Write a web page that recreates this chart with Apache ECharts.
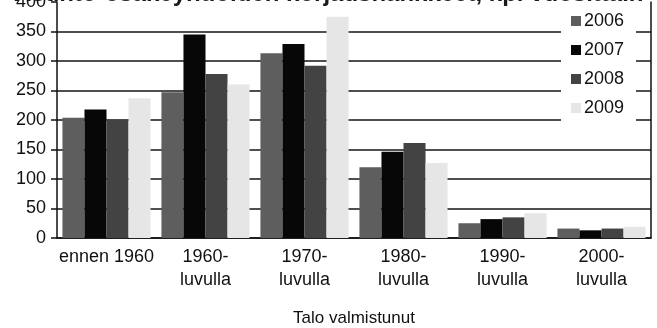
<!DOCTYPE html>
<html>
<head>
<meta charset="utf-8">
<script src="https://cdn.jsdelivr.net/npm/echarts@6/dist/echarts.min.js"></script>
<style>
  html, body { margin: 0; padding: 0; background: #fff; }
  #chart { width: 657px; height: 328px; }
</style>
</head>
<body>
<div id="chart"></div>
<script>
// Construction period of the building
const categories = ['ennen 1960', '1960-\nluvulla', '1970-\nluvulla', '1980-\nluvulla', '1990-\nluvulla', '2000-\nluvulla'];
const years = ['2006', '2007', '2008', '2009'];

// Counts per construction period, one list per year
const values2006 = [204, 247, 313, 120, 25, 16];
const values2007 = [218, 345, 329, 146, 32, 13];
const values2008 = [200, 278, 292, 161, 35, 16];
const values2009 = [237, 260, 375, 127, 42, 19];

const yTicks = { min: 0, max: 400, interval: 50 };
const barColors = ['#5e5e5e', '#070707', '#434343', '#e6e6e6'];

const font = '"Liberation Sans", Arial, sans-serif';
const seriesValues = [values2006, values2007, values2008, values2009];

const chart = echarts.init(document.getElementById('chart'), null, { renderer: 'canvas' });

chart.setOption({
  animation: false,
  backgroundColor: '#ffffff',
  // Heading runs off the top edge of the canvas
  graphic: [{
    type: 'text',
    left: 14,
    top: -18,
    z: 10,
    style: {
      text: 'Asunto-osakeyhtiöiden korjaushankkeet, kpl vuosittain',
      fontFamily: font,
      fontSize: 24,
      fontWeight: 'bold',
      fill: '#1a1a1a'
    }
  }],
  grid: { left: 57, right: 6, top: 2, bottom: 90, containLabel: false, outerBoundsMode: 'none' },
  legend: {
    orient: 'vertical',
    left: 561,
    top: 0,
    padding: [12, 12, 10, 10],
    backgroundColor: '#ffffff',
    itemWidth: 10,
    itemHeight: 10,
    itemGap: 11,
    icon: 'rect',
    data: years,
    textStyle: { fontFamily: font, fontSize: 18, color: '#111', lineHeight: 16, padding: [0, 0, 0, -2] }
  },
  xAxis: {
    type: 'category',
    data: categories,
    name: 'Talo valmistunut',
    nameLocation: 'middle',
    nameGap: 72,
    nameTextStyle: { fontFamily: font, fontSize: 17, color: '#111' },
    axisLine: { show: true, lineStyle: { color: '#111', width: 1.5 } },
    axisTick: { show: false },
    axisLabel: {
      interval: 0,
      margin: 8,
      fontFamily: font,
      fontSize: 18,
      lineHeight: 23,
      color: '#111'
    }
  },
  yAxis: [
    {
      type: 'value',
      min: yTicks.min,
      max: yTicks.max,
      interval: yTicks.interval,
      axisLine: { show: true, lineStyle: { color: '#111', width: 1.5 } },
      axisTick: { show: true, length: 6, lineStyle: { color: '#111', width: 1.5 } },
      axisLabel: { fontFamily: font, fontSize: 18, color: '#111', margin: 11 },
      splitLine: { show: true, showMaxLine: false, lineStyle: { color: '#151515', width: 1.5 } }
    },
    {
      type: 'value',
      position: 'right',
      min: yTicks.min,
      max: yTicks.max,
      interval: yTicks.interval,
      axisLine: { show: true, lineStyle: { color: '#111', width: 1.5 } },
      axisTick: { show: false },
      axisLabel: { show: false },
      splitLine: { show: false }
    }
  ],
  series: years.map((y, i) => ({
    name: y,
    type: 'bar',
    yAxisIndex: 0,
    data: seriesValues[i],
    barGap: '0%',
    barCategoryGap: '11%',
    itemStyle: { color: barColors[i] },
    z: 3
  }))
});
</script>
</body>
</html>
